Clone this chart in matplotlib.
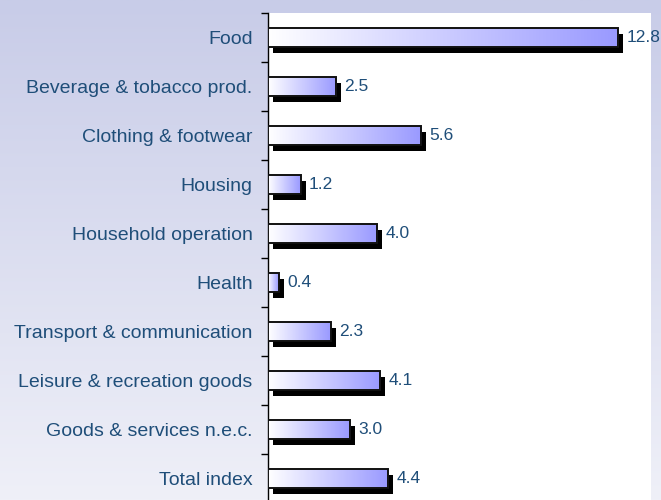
import numpy as np
import matplotlib
matplotlib.use('Agg')
import matplotlib.pyplot as plt
from matplotlib.colors import LinearSegmentedColormap
from matplotlib.patches import Rectangle
from matplotlib.transforms import ScaledTranslation

# categories top to bottom and their values
categories = ['Food', 'Beverage & tobacco prod.', 'Clothing & footwear', 'Housing',
              'Household operation', 'Health', 'Transport & communication',
              'Leisure & recreation goods', 'Goods & services n.e.c.', 'Total index']
values = [12.8, 2.5, 5.6, 1.2, 4.0, 0.4, 2.3, 4.1, 3.0, 4.4]

text_col = '#1f4e79'
plt.rcParams['font.family'] = ['Liberation Sans', 'DejaVu Sans']

fig = plt.figure(figsize=(6.61, 5), dpi=100)

# lavender background fading downwards
bg = fig.add_axes([0, 0, 1, 1], zorder=-10)
bg_cmap = LinearSegmentedColormap.from_list('bg', ['#c8cce8', '#eff0f8'])
bg.imshow(np.linspace(0, 1, 256).reshape(-1, 1), cmap=bg_cmap, aspect='auto',
          extent=(0, 1, 0, 1), origin='upper')
bg.axis('off')

ax = fig.add_axes([268 / 661, 1 - 13 / 500 - 490 / 500, 383 / 661, 490 / 500])
ax.set_facecolor('white')

bar_cmap = LinearSegmentedColormap.from_list('bar', ['#ffffff', '#9999ff'])
grad = np.linspace(0, 1, 256).reshape(1, -1)
h = 0.39
shadow_tr = ax.transData + ScaledTranslation(5 / 100, -6 / 100, fig.dpi_scale_trans)

for i, v in enumerate(values):
    sh = Rectangle((0, i - h / 2), v, h, facecolor='black', edgecolor='none',
                   transform=shadow_tr, zorder=2)
    ax.add_patch(sh)
    bar = Rectangle((0, i - h / 2), v, h, facecolor='none', edgecolor='#111111',
                    linewidth=1.4, zorder=4)
    ax.add_patch(bar)
    im = ax.imshow(grad, cmap=bar_cmap, aspect='auto', extent=(0, v, i + h / 2, i - h / 2),
                   zorder=3)
    im.set_clip_path(bar)
    ax.annotate(f'{v:.1f}', xy=(v, i), xytext=(8, 0), textcoords='offset pixels',
                ha='left', va='center', fontsize=12.5, color=text_col,
                annotation_clip=False)

ax.set_xlim(0, 14)
ax.set_ylim(len(categories) - 0.5, -0.5)

for s in ['top', 'right', 'bottom']:
    ax.spines[s].set_visible(False)
ax.spines['left'].set_color('black')
ax.spines['left'].set_linewidth(1)
ax.set_xticks([])

ax.set_yticks(range(len(categories)))
ax.set_yticklabels(categories, fontsize=14, color=text_col)
ax.tick_params(axis='y', which='major', length=0, pad=11)
ax.set_yticks(np.arange(-0.5, len(categories), 1), minor=True)
ax.tick_params(axis='y', which='minor', length=5, width=1, color='black')

fig.savefig('out.png', dpi=100)
